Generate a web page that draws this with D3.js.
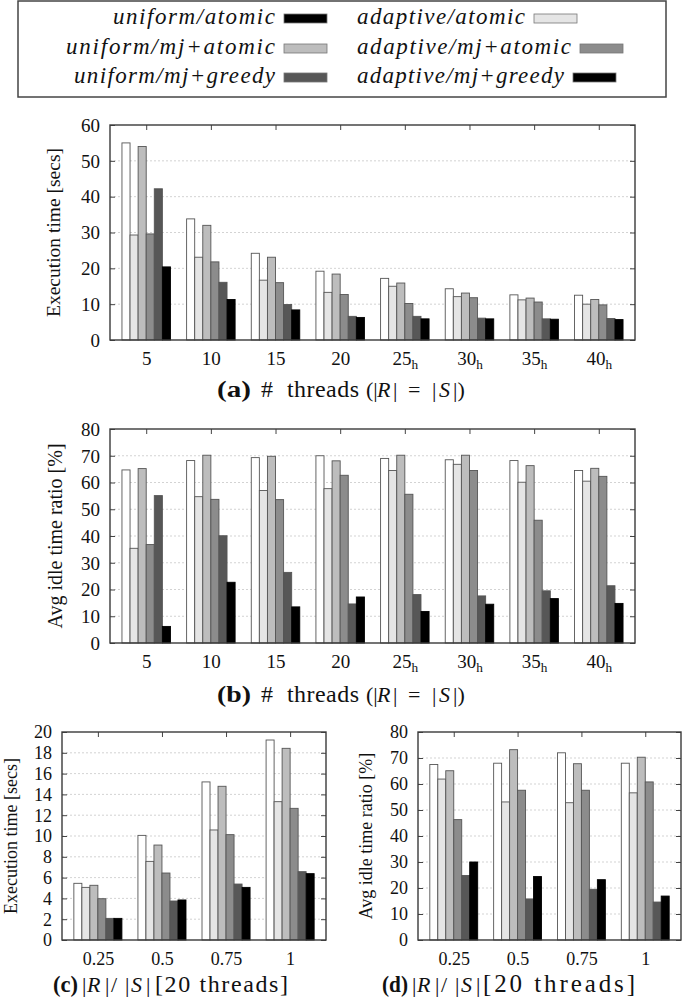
<!DOCTYPE html>
<html><head><meta charset="utf-8">
<script src="https://cdn.jsdelivr.net/npm/d3@7"></script>
<style>
body{margin:0;background:#fff}
svg text{font-family:"Liberation Serif",serif;fill:#111}
</style>
</head><body>
<svg id="chart" width="685" height="1006" xmlns="http://www.w3.org/2000/svg"></svg>
<script>
// ---------------- data ----------------
const seriesNames = ["uniform/atomic","adaptive/atomic","uniform/mj+atomic","adaptive/mj+atomic","uniform/mj+greedy","adaptive/mj+greedy"];
const barFills = ["#ffffff","#e5e5e5","#bdbdbd","#8c8c8c","#575757","#000000"];
const legendFills = ["#000000","#e5e5e5","#bdbdbd","#8c8c8c","#575757","#000000"];

const threadCats = ["5","10","15","20","25h","30h","35h","40h"];
const ratioCats = ["0.25","0.5","0.75","1"];

// rows = categories, columns = series (in seriesNames order)
const execThreads = [
  [55.0, 29.3, 54.0, 29.6, 42.2, 20.4],
  [33.8, 23.1, 32.0, 21.8, 16.1, 11.3],
  [24.2, 16.7, 23.1, 16.0,  9.9,  8.4],
  [19.2, 13.3, 18.4, 12.7,  6.6,  6.3],
  [17.2, 15.0, 15.9, 10.2,  6.6,  5.9],
  [14.3, 12.1, 13.1, 11.8,  6.1,  5.9],
  [12.6, 11.2, 11.7, 10.6,  5.9,  5.8],
  [12.5, 10.0, 11.3,  9.8,  6.0,  5.7]
];
const idleThreads = [
  [64.7, 35.4, 65.2, 36.8, 55.1,  6.2],
  [68.2, 54.7, 70.2, 53.7, 40.1, 22.7],
  [69.3, 57.0, 69.8, 53.6, 26.4, 13.5],
  [70.0, 57.7, 68.1, 62.7, 14.6, 17.2],
  [69.0, 64.5, 70.2, 55.6, 18.1, 11.8],
  [68.5, 66.8, 70.2, 64.5, 17.6, 14.5],
  [68.2, 60.1, 66.3, 45.9, 19.5, 16.6],
  [64.5, 60.5, 65.3, 62.3, 21.4, 14.8]
];
const execRatio = [
  [ 5.45,  5.06,  5.26,  3.97, 2.08, 2.08],
  [10.06,  7.56,  9.13,  6.44, 3.75, 3.85],
  [15.20, 10.58, 14.78, 10.13, 5.38, 5.06],
  [19.23, 13.30, 18.43, 12.66, 6.57, 6.38]
];
const idleRatio = [
  [67.5, 61.9, 65.1, 46.3, 24.8, 30.0],
  [68.0, 53.1, 73.2, 57.6, 15.8, 24.4],
  [72.0, 52.8, 67.8, 57.6, 19.5, 23.2],
  [68.0, 56.6, 70.3, 60.8, 14.6, 16.9]
];

const ticksExecThreads = [0,10,20,30,40,50,60];
const ticksIdle = [0,10,20,30,40,50,60,70,80];
const ticksExecRatio = [0,2,4,6,8,10,12,14,16,18,20];

// title pieces: text, x offset from title start, italic?, forced length, font size
const threadsTitle = [
  {s:"#", dx:44, fs:24}, {s:"threads", dx:70, len:72, fs:24}, {s:"(|", dx:149}, {s:"R", dx:160, i:true},
  {s:"|", dx:176}, {s:"=", dx:191}, {s:"|", dx:215}, {s:"S", dx:222, i:true}, {s:"|)", dx:236}
];
const ratioTitleC = [
  {s:"|", dx:29}, {s:"R", dx:34, i:true}, {s:"|", dx:52}, {s:"/", dx:58}, {s:"|", dx:72},
  {s:"S", dx:78, i:true}, {s:"|", dx:93}, {s:"[20 threads]", dx:102, len:133, fs:24}
];
const ratioTitleD = [
  {s:"|", dx:30}, {s:"R", dx:35, i:true}, {s:"|", dx:53}, {s:"/", dx:59}, {s:"|", dx:73},
  {s:"S", dx:79, i:true}, {s:"|", dx:94}, {s:"[20 threads]", dx:101, len:152, fs:25}
];

// ---------------- drawing ----------------
const svg = d3.select("#chart");

function panel(o) {
  const g = svg.append("g");
  const x = d3.scalePoint().domain(o.cats).range([o.x0, o.x1]).padding(0.56);
  const step = x.step();
  const inner = d3.scaleBand().domain(d3.range(seriesNames.length))
      .range([-step * 0.375, step * 0.375]).padding(0);
  const y = d3.scaleLinear().domain([0, o.max]).range([o.y1, o.y0]);

  // grid
  g.append("g").selectAll("line").data(o.ticks.filter(t => t > 0 && t < o.max)).join("line")
    .attr("x1", o.x0).attr("x2", o.x1)
    .attr("y1", d => y(d)).attr("y2", d => y(d))
    .attr("stroke", "#c8c8c8").attr("stroke-width", 0.8).attr("stroke-dasharray", "2,2");

  // axes ticks (inward)
  const yl = g.append("g").attr("transform", `translate(${o.x0},0)`)
    .call(d3.axisLeft(y).tickValues(o.ticks).tickSize(-5).tickPadding(10));
  const yr = g.append("g").attr("transform", `translate(${o.x1},0)`)
    .call(d3.axisRight(y).tickValues(o.ticks).tickSize(-5).tickFormat(""));
  const xt = g.append("g").attr("transform", `translate(0,${o.y0})`)
    .call(d3.axisTop(x).tickSize(-5).tickFormat(""));
  const xb = g.append("g").attr("transform", `translate(0,${o.y1})`)
    .call(d3.axisBottom(x).tickSize(-5).tickPadding(12));
  [yl, yr, xt, xb].forEach(a => {
    a.select(".domain").remove();
    a.selectAll("line").attr("stroke", "#444").attr("stroke-width", 1);
    a.selectAll("text").attr("font-size", o.fs);
  });
  yl.selectAll("text").attr("dy", "0.33em");
  xb.selectAll("text").each(function(d) {
    const t = d3.select(this);
    if (d.endsWith("h")) {
      t.text(d.slice(0, -1));
      t.append("tspan").attr("font-size", o.fs * 0.7).attr("dy", "0.3em").text("h");
    }
  });

  // bars
  const groups = g.append("g").selectAll("g").data(o.data).join("g")
    .attr("transform", (d, i) => `translate(${x(o.cats[i])},0)`);
  groups.selectAll("rect").data(d => d).join("rect")
    .attr("x", (d, j) => inner(j))
    .attr("width", inner.bandwidth())
    .attr("y", d => y(d))
    .attr("height", d => o.y1 - y(d))
    .attr("fill", (d, j) => barFills[j])
    .attr("stroke", (d, j) => j === 5 ? "#000" : "#555")
    .attr("stroke-width", 0.9);

  // frame
  g.append("rect").attr("x", o.x0).attr("y", o.y0)
    .attr("width", o.x1 - o.x0).attr("height", o.y1 - o.y0)
    .attr("fill", "none").attr("stroke", "#3a3a3a").attr("stroke-width", 1.4);

  // y label
  g.append("text")
    .attr("transform", `translate(${o.ylx},${(o.y0 + o.y1) / 2}) rotate(-90)`)
    .attr("dy", "0.35em").attr("text-anchor", "middle")
    .attr("font-size", o.yfs)
    .text(o.ylabel);

  // title
  const t = g.append("text").attr("y", o.ty).attr("font-size", o.tfs);
  t.append("tspan").attr("x", o.tx).attr("font-weight", "bold").attr("font-size", o.tagfs)
    .attr("textLength", o.taglen).attr("lengthAdjust", "spacingAndGlyphs").text(o.tag);
  o.rest.forEach(p => {
    const s = t.append("tspan").attr("x", o.tx + p.dx).text(p.s);
    if (p.i) s.attr("font-style", "italic");
    if (p.fs) s.attr("font-size", p.fs);
    if (p.len) s.attr("textLength", p.len).attr("lengthAdjust", "spacing");
  });
}

panel({cats: threadCats, data: execThreads, max: 60, ticks: ticksExecThreads,
  x0: 110, x1: 635, y0: 125, y1: 340, fs: 19, yfs: 19.5, ylx: 53, ylabel: "Execution time [secs]",
  tx: 217, ty: 397, tfs: 22, tagfs: 24, taglen: 34, tag: "(a)", rest: threadsTitle});
panel({cats: threadCats, data: idleThreads, max: 80, ticks: ticksIdle,
  x0: 110, x1: 635, y0: 429, y1: 643, fs: 19, yfs: 20, ylx: 55, ylabel: "Avg idle time ratio [%]",
  tx: 217, ty: 702, tfs: 22, tagfs: 24, taglen: 34, tag: "(b)", rest: threadsTitle});
panel({cats: ratioCats, data: execRatio, max: 20, ticks: ticksExecRatio,
  x0: 62, x1: 326, y0: 732, y1: 940, fs: 18, yfs: 18, ylx: 11, ylabel: "Execution time [secs]",
  tx: 53, ty: 992, tfs: 22, tagfs: 23, taglen: 25, tag: "(c)", rest: ratioTitleC});
panel({cats: ratioCats, data: idleRatio, max: 80, ticks: ticksIdle,
  x0: 418, x1: 681, y0: 732, y1: 940, fs: 18, yfs: 18, ylx: 366, ylabel: "Avg idle time ratio [%]",
  tx: 382, ty: 992, tfs: 22, tagfs: 23, taglen: 26, tag: "(d)", rest: ratioTitleD});

// ---------------- legend ----------------
const leg = svg.append("g");
leg.append("rect").attr("x", 18).attr("y", 1).attr("width", 648).attr("height", 96)
  .attr("fill", "#fff").attr("stroke", "#444").attr("stroke-width", 1.5);
// left column = uniform (0,2,4), right column = adaptive (1,3,5)
const legRows = [18, 48, 77];
const legTextLen = [162, 168, 209, 214, 201, 207];
seriesNames.forEach((name, i) => {
  const col = i % 2, row = Math.floor(i / 2);
  const cy = legRows[row];
  let tx, sx;
  if (col === 0) { tx = 275; sx = 284; }
  else { tx = 357; sx = 357 + legTextLen[i] + 9; }
  leg.append("text").attr("x", tx).attr("y", cy + 6)
    .attr("text-anchor", col === 0 ? "end" : "start")
    .attr("font-style", "italic").attr("font-size", 23)
    .attr("textLength", legTextLen[i]).attr("lengthAdjust", "spacing")
    .text(name);
  leg.append("rect").attr("x", sx).attr("y", cy - 4).attr("width", 43).attr("height", 9)
    .attr("fill", legendFills[i]).attr("stroke", "#777").attr("stroke-width", 0.8);
});
</script>
</body></html>
